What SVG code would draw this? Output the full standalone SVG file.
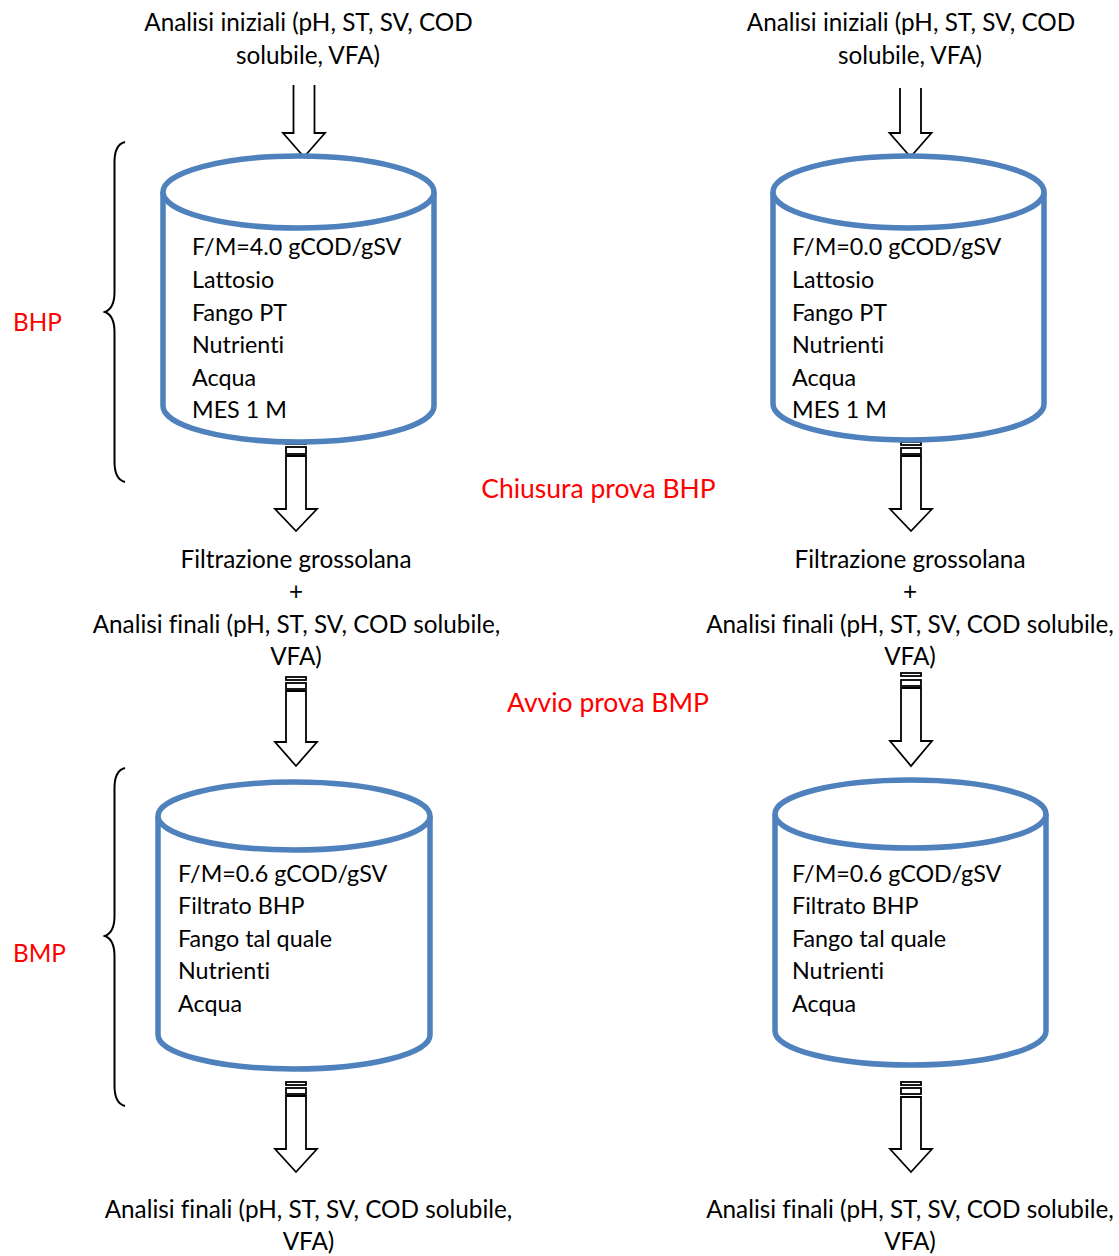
<svg xmlns="http://www.w3.org/2000/svg" width="1119" height="1256" viewBox="0 0 1119 1256">
<style>
text{font-family:Lato,"Open Sans","Liberation Sans",sans-serif;font-size:23.3px;fill:#000;font-variant-ligatures:none}
.c{text-anchor:middle}
.lbl{font-size:24.3px}
.red{fill:#FF0000}
.mid{font-size:26.5px}
.cyl{fill:#fff;stroke:#4F81BD;stroke-width:5.5}
.arr{fill:#fff;stroke:#000;stroke-width:1.8;stroke-linejoin:miter}
.brace{fill:none;stroke:#000;stroke-width:2}
</style>
<rect width="1119" height="1256" fill="#fff"/>
<g id="connectors">
  <path class="arr" d="M293.5,85 V133 H283 L304,157 L325,133 H314.5 V85"/>
  <path class="arr" d="M900,88 V133 H889.5 L910.5,157 L931.5,133 H921 V88"/>
  <g id="arrow-l2">
    <rect class="arr" x="286" y="441" width="20" height="3"/>
    <rect class="arr" x="286" y="447" width="20" height="7"/>
    <path class="arr" d="M286,456 V509 H275 L296,531 L317,509 H306 V456 Z"/>
  </g>
  <g id="arrow-r2">
    <rect class="arr" x="901" y="442" width="20" height="3"/>
    <rect class="arr" x="901" y="448" width="20" height="6"/>
    <path class="arr" d="M901,456 V509 H890 L911,531 L932,509 H921 V456 Z"/>
  </g>
  <g id="arrow-l3">
    <rect class="arr" x="286" y="677" width="20" height="3"/>
    <rect class="arr" x="286" y="683" width="20" height="6"/>
    <path class="arr" d="M286,691 V742 H275 L296,766 L317,742 H306 V691 Z"/>
  </g>
  <g id="arrow-r3">
    <rect class="arr" x="901" y="673" width="20" height="3"/>
    <rect class="arr" x="901" y="680" width="20" height="6"/>
    <path class="arr" d="M901,688 V741 H890 L911,766 L932,741 H921 V688 Z"/>
  </g>
  <g id="arrow-l4">
    <rect class="arr" x="286" y="1082" width="20" height="3"/>
    <rect class="arr" x="286" y="1088" width="20" height="6"/>
    <path class="arr" d="M286,1096 V1149 H275 L296,1172 L317,1149 H306 V1096 Z"/>
  </g>
  <g id="arrow-r4">
    <rect class="arr" x="901" y="1082" width="20" height="3"/>
    <rect class="arr" x="901" y="1088" width="20" height="6"/>
    <path class="arr" d="M901,1097 V1149 H890 L911,1172 L932,1149 H921 V1097 Z"/>
  </g>
</g>
<g id="brace-bhp">
  <path class="brace" d="M125,142 C117,144 114.5,152 114.5,162 V292 C114.5,304 110,310 105,312 C110,314 114.5,320 114.5,332 V462 C114.5,472 117,480 125,482"/>
  <text class="red lbl" x="13" y="331">BHP</text>
</g>
<g id="brace-bmp">
  <path class="brace" d="M125,768 C117,770 114.5,778 114.5,788 V916 C114.5,928 110,934 105,936 C110,938 114.5,944 114.5,956 V1086 C114.5,1096 117,1104 125,1106"/>
  <text class="red lbl" x="13" y="962">BMP</text>
</g>
<g id="label-start-left">
  <text class="c lbl" x="308.5" y="31">Analisi iniziali (pH, ST, SV, COD</text>
  <text class="c lbl" x="308" y="64">solubile, VFA)</text>
</g>
<g id="label-start-right">
  <text class="c lbl" x="911" y="31">Analisi iniziali (pH, ST, SV, COD</text>
  <text class="c lbl" x="910" y="64">solubile, VFA)</text>
</g>
<g id="reactor-bhp-left">
  <path class="cyl" d="M163,192 V406 A135.5,36 0 0 0 434,406 V192"/>
  <ellipse class="cyl" cx="298.5" cy="192" rx="135.5" ry="36"/>
  <text x="192" y="255">F/M=4.0 gCOD/gSV</text>
  <text x="192" y="288">Lattosio</text>
  <text x="192" y="321">Fango PT</text>
  <text x="192" y="353">Nutrienti</text>
  <text x="192" y="386">Acqua</text>
  <text x="192" y="418">MES 1 M</text>
</g>
<g id="reactor-bhp-right">
  <path class="cyl" d="M773,192 V404 A135.5,36 0 0 0 1044,404 V192"/>
  <ellipse class="cyl" cx="908.5" cy="192" rx="135.5" ry="36"/>
  <text x="792" y="255">F/M=0.0 gCOD/gSV</text>
  <text x="792" y="288">Lattosio</text>
  <text x="792" y="321">Fango PT</text>
  <text x="792" y="353">Nutrienti</text>
  <text x="792" y="386">Acqua</text>
  <text x="792" y="418">MES 1 M</text>
</g>
<text class="c red mid" x="598.5" y="498">Chiusura prova BHP</text>
<g id="label-filtr-left">
  <text class="c lbl" x="296" y="568">Filtrazione grossolana</text>
  <text class="c lbl" x="296" y="600">+</text>
  <text class="c lbl" x="296.5" y="633">Analisi finali (pH, ST, SV, COD solubile,</text>
  <text class="c lbl" x="296" y="665">VFA)</text>
</g>
<g id="label-filtr-right">
  <text class="c lbl" x="910" y="568">Filtrazione grossolana</text>
  <text class="c lbl" x="910" y="600">+</text>
  <text class="c lbl" x="910" y="633">Analisi finali (pH, ST, SV, COD solubile,</text>
  <text class="c lbl" x="910" y="665">VFA)</text>
</g>
<text class="c red mid" x="608" y="712">Avvio prova BMP</text>
<g id="reactor-bmp-left">
  <path class="cyl" d="M158,816 V1035 A136,34 0 0 0 430,1035 V816"/>
  <ellipse class="cyl" cx="294" cy="816" rx="136" ry="34"/>
  <text x="178" y="882">F/M=0.6 gCOD/gSV</text>
  <text x="178" y="914">Filtrato BHP</text>
  <text x="178" y="947">Fango tal quale</text>
  <text x="178" y="979">Nutrienti</text>
  <text x="178" y="1012">Acqua</text>
</g>
<g id="reactor-bmp-right">
  <path class="cyl" d="M775,814 V1031 A135.5,34 0 0 0 1046,1031 V814"/>
  <ellipse class="cyl" cx="910.5" cy="814" rx="135.5" ry="34"/>
  <text x="792" y="882">F/M=0.6 gCOD/gSV</text>
  <text x="792" y="914">Filtrato BHP</text>
  <text x="792" y="947">Fango tal quale</text>
  <text x="792" y="979">Nutrienti</text>
  <text x="792" y="1012">Acqua</text>
</g>
<g id="label-end-left">
  <text class="c lbl" x="308.5" y="1218">Analisi finali (pH, ST, SV, COD solubile,</text>
  <text class="c lbl" x="308.5" y="1250">VFA)</text>
</g>
<g id="label-end-right">
  <text class="c lbl" x="910" y="1218">Analisi finali (pH, ST, SV, COD solubile,</text>
  <text class="c lbl" x="910" y="1250">VFA)</text>
</g>
</svg>
